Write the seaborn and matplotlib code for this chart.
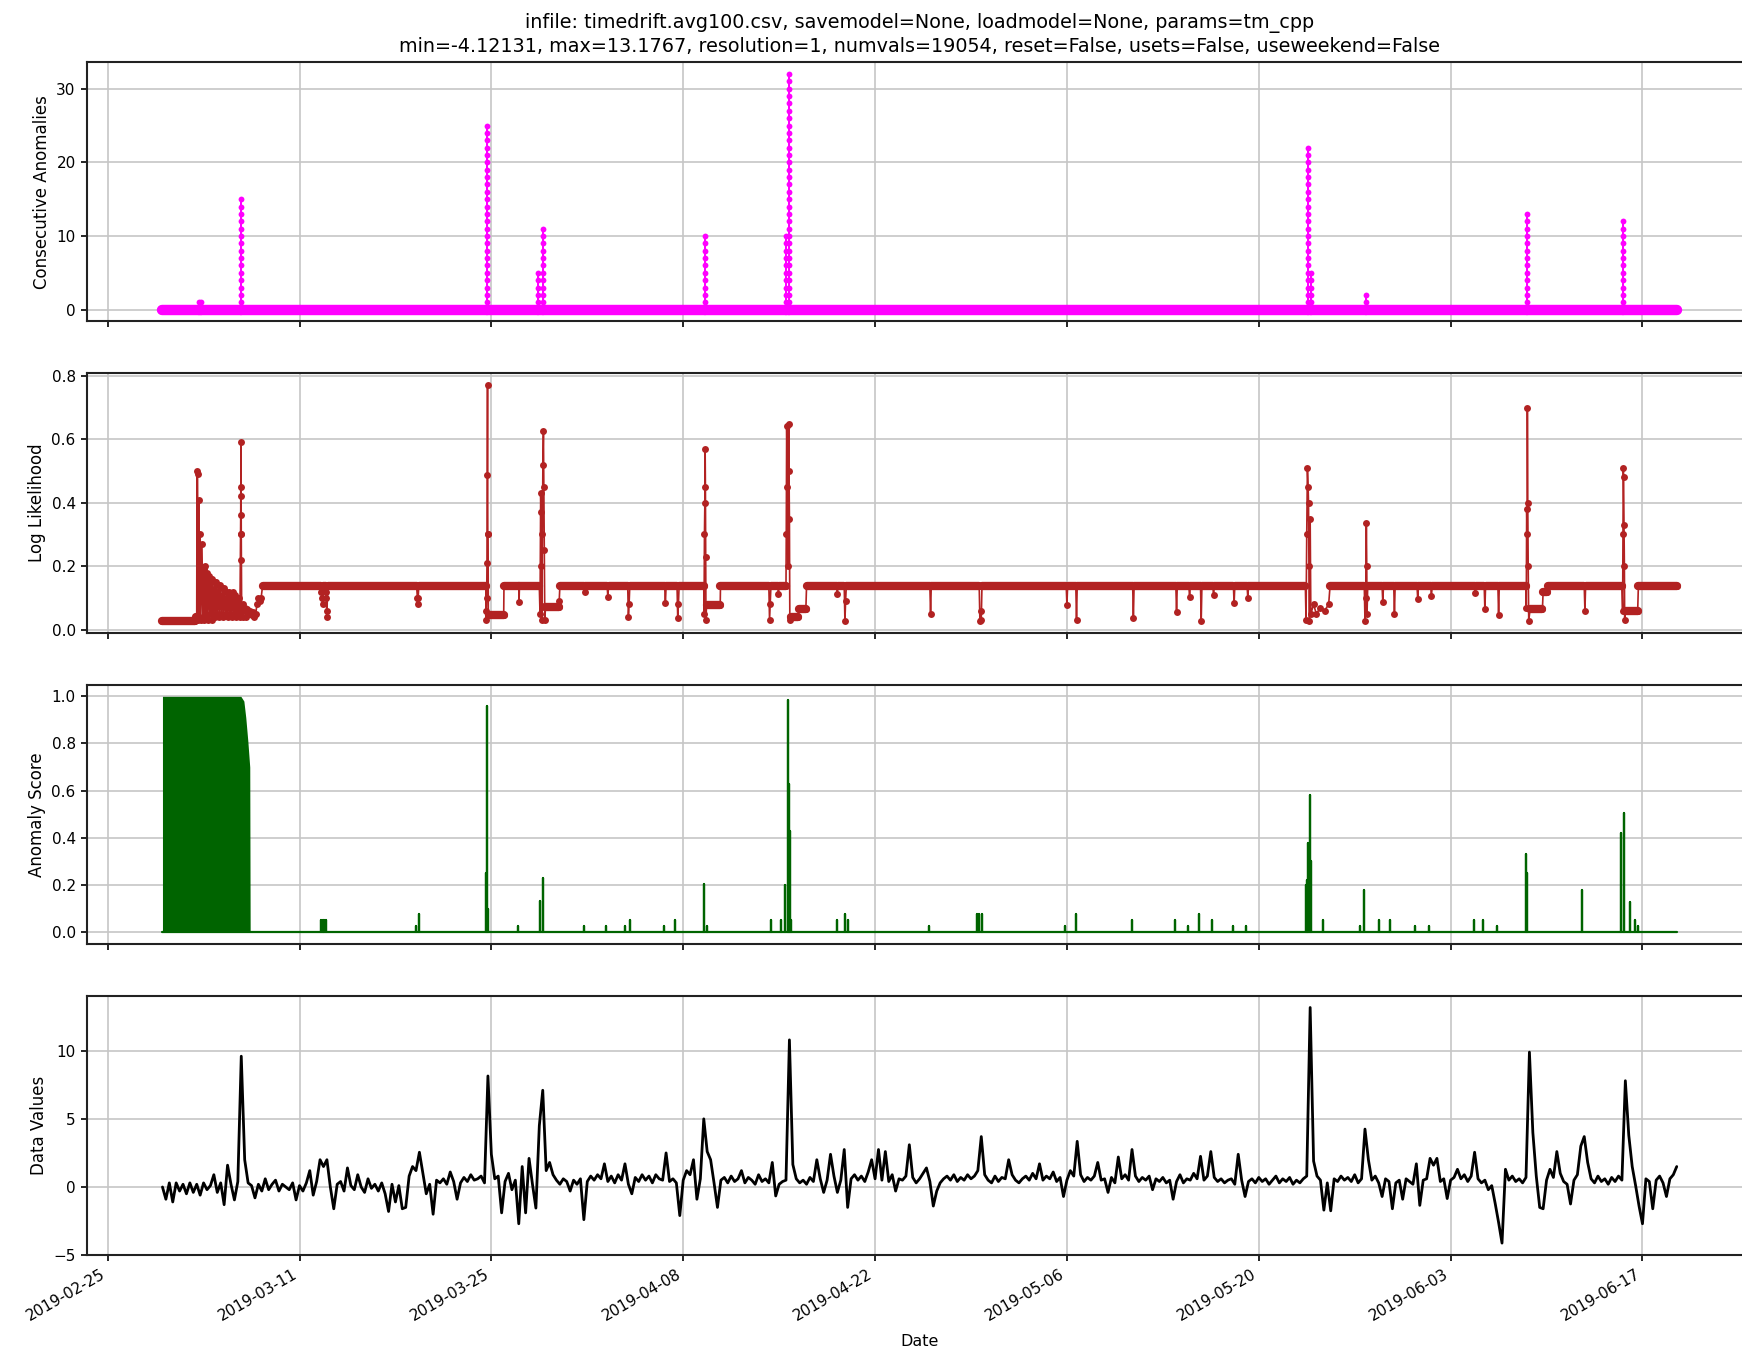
import numpy as np
import pandas as pd
import matplotlib
matplotlib.use("Agg")
import matplotlib.pyplot as plt
import matplotlib.dates as mdates
from matplotlib.collections import LineCollection
from matplotlib.ticker import MultipleLocator
import seaborn as sns

# ── Data (days are offsets from 2019-03-01 00:00) ─────────────────────────────
START = pd.Timestamp("2019-03-01")
END_DAY = 110.5

# consecutive anomaly runs: day of the run and the count it reached
cons_days = [2.65, 2.8, 5.71, 23.7, 27.4, 27.75, 39.6, 45.5, 45.7,
             83.6, 83.8, 87.8, 99.6, 106.6]
cons_peaks = [1, 1, 15, 25, 5, 11, 10, 10, 32, 22, 5, 2, 13, 12]

# log likelihood (day, value)
ll_points = [
    (0.0, 0.028), (2.4, 0.028), (2.42, 0.04), (2.5, 0.04),
    (2.52, 0.50), (2.56, 0.49), (2.6, 0.03), (2.65, 0.41), (2.7, 0.04), (2.75, 0.30),
    (2.8, 0.03), (2.88, 0.27), (2.95, 0.04), (3.0, 0.19), (3.05, 0.03), (3.12, 0.20),
    (3.18, 0.04), (3.25, 0.18), (3.3, 0.03), (3.38, 0.17), (3.45, 0.05), (3.52, 0.16),
    (3.58, 0.03), (3.65, 0.16), (3.72, 0.05), (3.8, 0.15), (3.86, 0.04), (3.93, 0.15),
    (4.0, 0.05), (4.08, 0.14), (4.15, 0.04), (4.22, 0.14), (4.3, 0.05), (4.38, 0.13),
    (4.45, 0.04), (4.52, 0.13), (4.6, 0.05), (4.68, 0.12), (4.75, 0.04), (4.82, 0.12),
    (4.9, 0.05), (4.98, 0.11), (5.05, 0.04), (5.12, 0.12), (5.2, 0.05), (5.28, 0.11),
    (5.35, 0.04), (5.42, 0.10), (5.5, 0.05), (5.58, 0.10), (5.65, 0.04),
    (5.70, 0.30), (5.71, 0.36), (5.72, 0.45), (5.73, 0.59), (5.74, 0.42), (5.75, 0.30),
    (5.76, 0.22), (5.78, 0.06),
    (5.85, 0.08), (5.9, 0.04), (6.0, 0.07), (6.1, 0.04), (6.2, 0.065), (6.3, 0.05),
    (6.4, 0.06), (6.5, 0.045), (6.6, 0.055), (6.7, 0.04), (6.8, 0.05), (6.9, 0.08),
    (7.0, 0.10), (7.1, 0.09), (7.2, 0.10), (7.3, 0.137),
    (11.55, 0.137), (11.6, 0.12), (11.65, 0.10), (11.7, 0.08), (11.75, 0.137),
    (11.9, 0.137), (11.92, 0.12), (11.95, 0.10), (11.98, 0.06), (12.0, 0.04), (12.05, 0.137),
    (18.55, 0.137), (18.6, 0.10), (18.63, 0.08), (18.66, 0.10), (18.7, 0.137),
    (23.6, 0.137), (23.62, 0.03), (23.64, 0.06), (23.66, 0.10), (23.68, 0.21), (23.7, 0.486),
    (23.72, 0.77), (23.74, 0.30), (23.76, 0.30), (23.78, 0.05), (23.8, 0.046), (24.9, 0.046),
    (24.92, 0.137),
    (26.0, 0.137), (26.02, 0.088), (26.05, 0.137),
    (27.5, 0.137), (27.55, 0.05), (27.6, 0.43), (27.62, 0.37), (27.65, 0.20), (27.68, 0.03),
    (27.72, 0.30), (27.76, 0.52), (27.8, 0.627), (27.83, 0.45), (27.86, 0.25), (27.9, 0.03),
    (27.95, 0.072), (28.9, 0.072), (28.95, 0.09), (29.0, 0.137),
    (30.75, 0.137), (30.8, 0.12), (30.85, 0.137),
    (32.45, 0.137), (32.5, 0.104), (32.55, 0.137),
    (33.95, 0.137), (34.0, 0.04), (34.05, 0.08), (34.1, 0.137),
    (36.65, 0.137), (36.7, 0.083), (36.75, 0.137),
    (37.55, 0.137), (37.6, 0.036), (37.65, 0.08), (37.7, 0.137),
    (39.5, 0.137), (39.52, 0.05), (39.55, 0.30), (39.58, 0.40), (39.6, 0.57), (39.62, 0.45),
    (39.64, 0.23), (39.66, 0.03), (39.7, 0.078), (40.7, 0.078), (40.72, 0.137),
    (44.25, 0.137), (44.3, 0.03), (44.35, 0.08), (44.4, 0.137),
    (44.9, 0.137), (44.95, 0.114), (45.0, 0.137),
    (45.5, 0.137), (45.52, 0.30), (45.55, 0.64), (45.6, 0.45), (45.65, 0.20), (45.7, 0.648),
    (45.72, 0.50), (45.75, 0.35), (45.78, 0.04), (45.82, 0.03), (45.85, 0.04), (46.4, 0.04),
    (46.45, 0.064), (46.95, 0.064), (47.0, 0.137),
    (49.2, 0.137), (49.25, 0.114), (49.3, 0.137),
    (49.75, 0.137), (49.8, 0.028), (49.85, 0.09), (49.9, 0.137),
    (56.0, 0.137), (56.05, 0.05), (56.1, 0.137),
    (59.6, 0.137), (59.65, 0.028), (59.7, 0.06), (59.75, 0.03), (59.8, 0.137),
    (65.95, 0.137), (66.0, 0.078), (66.05, 0.137),
    (66.65, 0.137), (66.7, 0.03), (66.75, 0.137),
    (70.8, 0.137), (70.85, 0.036), (70.9, 0.137),
    (73.95, 0.137), (74.0, 0.056), (74.05, 0.137),
    (74.9, 0.137), (74.95, 0.104), (75.0, 0.137),
    (75.75, 0.137), (75.8, 0.028), (75.85, 0.137),
    (76.65, 0.137), (76.7, 0.11), (76.75, 0.137),
    (78.15, 0.137), (78.2, 0.083), (78.25, 0.137),
    (79.15, 0.137), (79.2, 0.10), (79.25, 0.137),
    (83.4, 0.137), (83.45, 0.03), (83.5, 0.30), (83.55, 0.51), (83.6, 0.45), (83.63, 0.40),
    (83.66, 0.20), (83.7, 0.028), (83.75, 0.35), (83.8, 0.05), (84.0, 0.08), (84.2, 0.05),
    (84.5, 0.07), (84.8, 0.06), (85.1, 0.08), (85.2, 0.137),
    (87.7, 0.137), (87.75, 0.028), (87.8, 0.10), (87.85, 0.336), (87.88, 0.20), (87.9, 0.05),
    (87.95, 0.137),
    (89.0, 0.137), (89.05, 0.087), (89.1, 0.137),
    (89.85, 0.137), (89.9, 0.05), (89.95, 0.137),
    (91.55, 0.137), (91.6, 0.096), (91.65, 0.137),
    (92.55, 0.137), (92.6, 0.105), (92.65, 0.137),
    (95.75, 0.137), (95.8, 0.115), (95.85, 0.137),
    (96.45, 0.137), (96.5, 0.064), (96.55, 0.137),
    (97.45, 0.137), (97.5, 0.048), (97.55, 0.137),
    (99.5, 0.137), (99.52, 0.07), (99.55, 0.38), (99.58, 0.30), (99.6, 0.697), (99.63, 0.40),
    (99.66, 0.20), (99.7, 0.028), (99.8, 0.066), (100.7, 0.066), (100.75, 0.12), (101.05, 0.12),
    (101.1, 0.137),
    (103.75, 0.137), (103.8, 0.06), (103.85, 0.137),
    (106.5, 0.137), (106.55, 0.06), (106.58, 0.30), (106.6, 0.51), (106.62, 0.48), (106.65, 0.33),
    (106.68, 0.20), (106.7, 0.03), (106.75, 0.06), (107.65, 0.06), (107.7, 0.137),
    (110.5, 0.137),
]

# anomaly score: saturated block at the start (envelope) and isolated spikes
block_days = [0.0, 5.72, 5.94, 6.08, 6.23, 6.37, 6.4]
block_top = [1.0, 1.0, 0.98, 0.91, 0.81, 0.70, 0.0]
score_spikes = [
    (11.6, 0.053), (11.7, 0.053), (11.8, 0.053), (11.95, 0.053),
    (18.48, 0.026), (18.7, 0.078),
    (23.58, 0.25), (23.66, 0.855), (23.7, 0.957), (23.73, 0.10),
    (25.95, 0.026),
    (27.55, 0.13), (27.77, 0.228),
    (30.74, 0.026), (32.33, 0.026), (33.78, 0.026), (34.15, 0.05), (36.6, 0.026), (37.4, 0.05),
    (39.5, 0.203), (39.73, 0.026),
    (44.37, 0.05), (45.17, 0.05), (45.46, 0.20), (45.68, 0.983), (45.72, 0.63), (45.76, 0.43),
    (45.8, 0.20), (45.84, 0.05),
    (49.2, 0.05), (49.8, 0.078), (50.0, 0.05),
    (55.97, 0.026),
    (59.46, 0.078), (59.6, 0.078), (59.8, 0.078),
    (65.84, 0.026), (66.64, 0.078),
    (70.77, 0.05),
    (73.9, 0.05), (74.83, 0.026), (75.63, 0.078), (76.57, 0.05), (78.09, 0.026), (79.04, 0.026),
    (83.42, 0.20), (83.55, 0.22), (83.6, 0.38), (83.72, 0.40), (83.75, 0.58), (83.8, 0.30),
    (84.7, 0.05),
    (87.37, 0.026), (87.66, 0.178), (88.8, 0.05), (89.6, 0.05), (91.4, 0.026), (92.45, 0.026),
    (95.7, 0.05), (96.37, 0.05), (97.38, 0.026),
    (99.48, 0.33), (99.52, 0.25), (99.6, 0.25),
    (103.6, 0.178),
    (106.45, 0.42), (106.67, 0.505), (107.1, 0.127), (107.46, 0.05), (107.68, 0.026),
]

# raw data values, one reading every 6 hours from 2019-03-01
data_values = [
    0.0, -0.9, 0.3, -1.1, 0.3, -0.3, 0.2, -0.5,        # d 0
    0.3, -0.4, 0.2, -0.6, 0.3, -0.2, 0.1, 0.9,         # d 2
    -0.4, 0.3, -1.3, 1.6, 0.2, -0.95, 0.4, 9.6,        # d 4
    2.0, 0.3, 0.1, -0.8, 0.2, -0.3, 0.6, -0.2,         # d 6
    0.2, 0.5, -0.3, 0.2, 0.0, -0.2, 0.3, -0.95,        # d 8
    0.1, -0.3, 0.3, 1.2, -0.6, 0.4, 2.0, 1.5,          # d 10
    2.0, 0.0, -1.6, 0.2, 0.4, -0.3, 1.4, 0.1,          # d 12
    -0.2, 0.9, 0.0, -0.4, 0.6, -0.1, 0.2, -0.3,        # d 14
    0.3, -0.5, -1.8, 0.2, -1.1, 0.1, -1.6, -1.5,       # d 16
    0.8, 1.5, 1.2, 2.55, 1.0, -0.5, 0.2, -2.0,         # d 18
    0.5, 0.3, 0.6, 0.2, 1.1, 0.4, -0.9, 0.3,           # d 20
    0.7, 0.4, 0.9, 0.5, 0.6, 0.8, 0.3, 8.15,           # d 22
    2.4, 0.6, 0.8, -1.9, 0.4, 1.0, -0.2, 0.5,          # d 24
    -2.7, 1.5, -1.9, 2.1, 0.2, -1.55, 4.5, 7.1,        # d 26
    1.2, 1.8, 0.9, 0.5, 0.2, 0.6, 0.4, -0.3,           # d 28
    0.5, 0.2, 0.6, -2.4, 0.4, 0.8, 0.5, 0.9,           # d 30
    0.6, 1.7, 0.4, 0.8, 0.3, 0.9, 0.5, 1.7,            # d 32
    0.2, -0.5, 0.7, 0.4, 0.9, 0.5, 0.8, 0.3,           # d 34
    0.9, 0.6, 0.5, 2.5, 0.4, 0.6, 0.3, -2.1,           # d 36
    0.5, 1.2, 0.9, 2.0, -0.9, 0.6, 5.0, 2.6,           # d 38
    2.0, 0.3, -1.5, 0.5, 0.7, 0.3, 0.8, 0.4,           # d 40
    0.6, 1.2, 0.3, 0.7, 0.5, 0.2, 0.9, 0.4,            # d 42
    0.6, 0.3, 1.8, -0.66, 0.2, 0.4, 0.5, 10.8,         # d 44
    1.65, 0.6, 0.3, 0.5, 0.2, 0.7, 0.4, 2.0,           # d 46
    0.6, -0.4, 0.5, 2.4, 0.8, -0.4, 0.5, 2.75,         # d 48
    -1.5, 0.6, 0.9, 0.5, 0.8, 0.4, 1.1, 2.0,           # d 50
    0.6, 2.75, 0.5, 2.6, 0.4, 0.9, -0.3, 0.6,          # d 52
    0.5, 0.8, 3.1, 0.7, 0.3, 0.6, 1.0, 1.4,            # d 54
    0.4, -1.4, -0.3, 0.3, 0.6, 0.8, 0.5, 0.9,          # d 56
    0.4, 0.7, 0.5, 0.9, 0.6, 0.8, 1.2, 3.7,            # d 58
    0.9, 0.5, 0.3, 0.8, 0.4, 0.7, 0.6, 2.0,            # d 60
    0.9, 0.5, 0.3, 0.6, 0.8, 0.5, 1.0, 0.6,            # d 62
    1.7, 0.5, 0.8, 0.6, 1.1, 0.4, 0.7, -0.7,           # d 64
    0.5, 1.2, 0.8, 3.35, 0.9, 0.4, 0.7, 0.5,           # d 66
    0.8, 1.8, 0.5, 0.6, -0.4, 0.7, 0.3, 2.2,           # d 68
    0.6, 0.9, 0.5, 2.75, 0.8, 0.4, 0.7, 0.5,           # d 70
    0.8, -0.2, 0.6, 0.4, 0.7, 0.3, 0.5, -0.9,          # d 72
    0.4, 0.9, 0.3, 0.6, 0.5, 1.0, 0.6, 2.25,           # d 74
    0.5, 0.8, 2.6, 0.7, 0.4, 0.6, 0.3, 0.5,            # d 76
    0.6, 0.2, 2.4, 0.5, -0.7, 0.4, 0.6, 0.3,           # d 78
    0.7, 0.4, 0.6, 0.2, 0.5, 0.8, 0.3, 0.6,            # d 80
    0.4, 0.7, 0.2, 0.5, 0.3, 0.6, 0.8, 13.1767,        # d 82
    1.9, 0.8, 0.5, -1.7, 0.3, -1.75, 0.6, 0.4,         # d 84
    0.8, 0.5, 0.7, 0.4, 0.9, 0.3, 0.6, 4.25,           # d 86
    2.0, 0.5, 0.8, 0.3, -0.7, 0.6, 0.4, -1.6,          # d 88
    0.3, 0.5, -0.9, 0.6, 0.4, 0.2, 1.7, -1.35,         # d 90
    0.5, 0.6, 2.1, 1.6, 2.1, 0.4, 0.6, -0.85,          # d 92
    0.5, 0.7, 1.3, 0.6, 0.9, 0.4, 0.8, 2.55,           # d 94
    0.6, 0.3, 0.5, -0.2, 0.1, -1.2, -2.6, -4.12131,    # d 96
    1.3, 0.5, 0.8, 0.4, 0.6, 0.3, 0.7, 9.9,            # d 98
    4.0, 0.8, -1.5, -1.6, 0.5, 1.3, 0.7, 2.6,          # d 100
    1.0, 0.4, 0.2, -1.25, 0.5, 0.9, 3.0, 3.7,          # d 102
    1.8, 0.6, 0.3, 0.8, 0.4, 0.6, 0.2, 0.7,            # d 104
    0.4, 0.8, 0.5, 7.8, 3.8, 1.5, 0.1, -1.4,           # d 106
    -2.7, 0.6, 0.4, -1.6, 0.5, 0.8, 0.3, -0.7,         # d 108
    0.6, 0.9, 1.5,                                     # d 110
]

tick_dates = ["2019-02-25", "2019-03-11", "2019-03-25", "2019-04-08", "2019-04-22",
              "2019-05-06", "2019-05-20", "2019-06-03", "2019-06-17"]

TITLE = ("infile: timedrift.avg100.csv, savemodel=None, loadmodel=None, params=tm_cpp\n"
         "min=-4.12131, max=13.1767, resolution=1, numvals=19054, reset=False, "
         "usets=False, useweekend=False")

MAGENTA = "#ff00ff"
FIREBRICK = "#b22222"
GREEN = "#006400"


def to_time(days):
    return START + pd.to_timedelta(np.asarray(days, dtype=float), unit="D")


def draw_flat_runs(ax, times, vals, color, width):
    # consecutive equal readings form the thick bands of overlapping markers
    xs = mdates.date2num(times)
    segs = [[(xs[i], vals[i]), (xs[i + 1], vals[i + 1])]
            for i in range(len(vals) - 1)
            if vals[i] == vals[i + 1] and xs[i] != xs[i + 1]]
    ax.add_collection(LineCollection(segs, colors=color, linewidths=width,
                                     capstyle="round", zorder=2.5))


# ── Build series ──────────────────────────────────────────────────────────────
cons_x, cons_y = [0.0], [0]
for d, p in zip(cons_days, cons_peaks):
    cons_x += [d] * (p + 2)
    cons_y += list(range(p + 1)) + [0]
cons_x.append(END_DAY)
cons_y.append(0)
cons_df = pd.DataFrame({"time": to_time(cons_x), "value": cons_y})

ll_days, ll_vals = zip(*ll_points)
ll_df = pd.DataFrame({"time": to_time(ll_days), "value": ll_vals})

score_x, score_y = [0.0], [0.0]
for d, v in score_spikes:
    score_x += [d, d, d]
    score_y += [0.0, v, 0.0]
score_x.append(END_DAY)
score_y.append(0.0)
score_df = pd.DataFrame({"time": to_time(score_x), "value": score_y})

data_df = pd.DataFrame({
    "time": pd.date_range(START, periods=len(data_values), freq="6h"),
    "value": data_values,
})

# ── Plot ──────────────────────────────────────────────────────────────────────
sns.set_style("ticks")
plt.rcParams["font.family"] = ["DejaVu Sans"]
plt.rcParams.update({
    "axes.linewidth": 1.5,
    "axes.edgecolor": "#222222",
    "xtick.major.size": 4.5,
    "ytick.major.size": 4.5,
    "xtick.major.width": 1.2,
    "ytick.major.width": 1.2,
    "xtick.labelsize": 11,
    "ytick.labelsize": 11,
    "xtick.color": "black",
    "ytick.color": "black",
    "text.color": "black",
    "axes.labelcolor": "black",
})

fig, axes = plt.subplots(4, 1, sharex=True, figsize=(17.42, 13.51), dpi=100)
fig.subplots_adjust(left=0.0498, right=1.006, top=0.954, bottom=0.071, hspace=0.2)

ax = axes[0]
sns.lineplot(data=cons_df, x="time", y="value", ax=ax, color=MAGENTA, estimator=None,
             sort=False, linewidth=1.2, marker="o", markersize=4.2, markeredgewidth=0)
draw_flat_runs(ax, cons_df["time"], cons_df["value"].tolist(), MAGENTA, 7.5)
ax.yaxis.set_major_locator(MultipleLocator(10))
ax.set_ylabel("Consecutive Anomalies", fontsize=12)
ax.set_title(TITLE, fontsize=13.8, linespacing=1.27, pad=7)

ax = axes[1]
sns.lineplot(data=ll_df, x="time", y="value", ax=ax, color=FIREBRICK, estimator=None,
             sort=False, linewidth=1.2, marker="o", markersize=5, markeredgewidth=0)
draw_flat_runs(ax, ll_df["time"], ll_df["value"].tolist(), FIREBRICK, 6.0)
ax.set_ylabel("Log Likelihood", fontsize=12)

ax = axes[2]
ax.fill_between(to_time(block_days), 0, block_top, color=GREEN, linewidth=0, zorder=2)
sns.lineplot(data=score_df, x="time", y="value", ax=ax, color=GREEN, estimator=None,
             sort=False, linewidth=1.6)
ax.set_ylabel("Anomaly Score", fontsize=12)

ax = axes[3]
sns.lineplot(data=data_df, x="time", y="value", ax=ax, color="black", estimator=None,
             sort=False, linewidth=2.0)
ax.yaxis.set_major_locator(MultipleLocator(5))
ax.set_ylim(-5.0, 14.04)
ax.set_ylabel("Data Values", fontsize=12)

for ax in axes:
    ax.grid(True, color="#c6c6c6", linewidth=1.2)
    ax.set_xlabel("")

bottom = axes[-1]
bottom.set_xticks(pd.to_datetime(tick_dates))
bottom.xaxis.set_major_formatter(mdates.DateFormatter("%Y-%m-%d"))
plt.setp(bottom.get_xticklabels(), rotation=30, ha="right")
bottom.set_xlabel("Date", fontsize=11.5, labelpad=8)

fig.savefig("out.png", dpi=100)
